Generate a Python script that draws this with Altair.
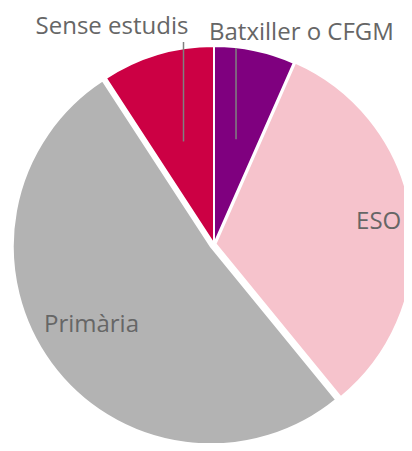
import altair as alt
import pandas as pd

categories = ["Batxiller o CFGM", "ESO", "Primària", "Sense estudis"]
values = [6.6, 32.5, 51.7, 9.2]
colors = ["#7F007F", "#F6C3CC", "#B3B3B3", "#CC0044"]

# layout (pixels, plot coordinates)
CX, CY, R = 206, 236, 198
LEADER_R = 107
explode = {"Primària": 4, "ESO": 1.5}
label_offset = {
    "Batxiller o CFGM": (46.7, -10.2),
    "ESO": (-31.5, 11.7),
    "Primària": (37.3, -28.9),
    "Sense estudis": (-45.6, -20.2),
}
leader_cats = ["Sense estudis", "Batxiller o CFGM"]


def lookup(d, idx, default=0):
    expr = str(default)
    for k, v in d.items():
        val = v[idx] if isinstance(v, tuple) else v
        expr = f"(datum.cat == '{k}' ? {val} : {expr})"
    return expr


df = pd.DataFrame({"cat": categories, "value": values, "order": list(range(len(categories)))})

base = (
    alt.Chart(df)
    .transform_window(cum="sum(value)", sort=[alt.SortField("order")], frame=[None, 0])
    .transform_joinaggregate(total="sum(value)")
    .transform_calculate(
        a1="datum.cum / datum.total * 2 * PI",
        a0="(datum.cum - datum.value) / datum.total * 2 * PI",
    )
    .transform_calculate(
        mid="(datum.a0 + datum.a1) / 2",
        ex=lookup({k: v for k, v in explode.items()}, 0),
        ldx=lookup(label_offset, 0),
        ldy=lookup(label_offset, 1),
    )
    .transform_calculate(
        px=f"{CX} + datum.ex * sin(datum.mid)",
        py=f"{CY} - datum.ex * cos(datum.mid)",
        lx=f"{CX} + {R} * sin(datum.mid) + datum.ldx",
        ly=f"{CY} - {R} * cos(datum.mid) + datum.ldy",
        rx=f"{CX} + {LEADER_R} * sin(datum.mid)",
        ry=f"{CY} - {LEADER_R} * cos(datum.mid)",
    )
)

arcs = base.mark_arc(radius=R, stroke="white", strokeWidth=2).encode(
    theta=alt.Theta("a0:Q", scale=None),
    theta2="a1:Q",
    x=alt.X("px:Q", scale=None, axis=None),
    y=alt.Y("py:Q", scale=None, axis=None),
    color=alt.Color("cat:N", scale=alt.Scale(domain=categories, range=colors), legend=None),
)

leaders = (
    base.transform_filter(alt.FieldOneOfPredicate(field="cat", oneOf=leader_cats))
    .transform_calculate(ry2="datum.ly + 8")
    .mark_rule(color="#808080", strokeWidth=1.5)
    .encode(
        x=alt.X("rx:Q", scale=None, axis=None),
        y=alt.Y("ry:Q", scale=None, axis=None),
        y2="ry2:Q",
    )
)

labels = base.mark_text(
    font="Open Sans", fontSize=24, color="#666666", align="center", baseline="alphabetic"
).encode(
    x=alt.X("lx:Q", scale=None, axis=None),
    y=alt.Y("ly:Q", scale=None, axis=None),
    text="cat:N",
)

chart = (
    alt.layer(arcs, leaders, labels)
    .properties(
        width=396,
        height=435,
        padding=0,
        autosize=alt.AutoSizeParams(type="none"),
    )
    .configure_view(stroke=None)
)

chart.save("out.html", embed_options={"renderer": "svg", "actions": False})
